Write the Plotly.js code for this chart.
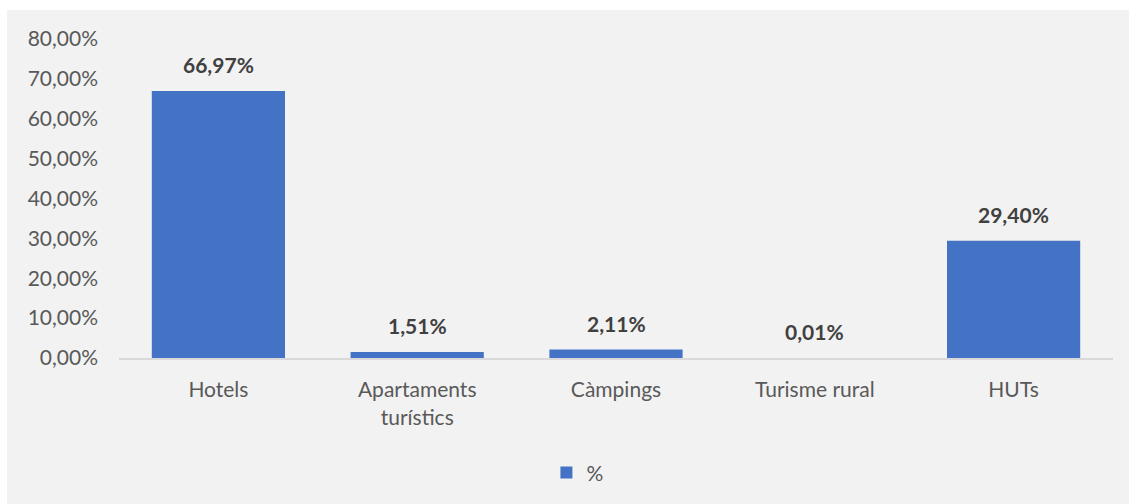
<!DOCTYPE html>
<html>
<head>
<meta charset="utf-8">
<script src="https://cdn.plot.ly/plotly-3.0.1.min.js"></script>
<style>
html,body{margin:0;padding:0;background:#ffffff;}
#chart{position:absolute;left:7px;top:10px;width:1122px;height:494px;}
</style>
</head>
<body>
<div id="chart"></div>
<script>
const categories = ["Hotels", "Apartaments<br>turístics", "Càmpings", "Turisme rural", "HUTs"];
const values = [66.97, 1.51, 2.11, 0.01, 29.40];
const labels = ["66,97%", "1,51%", "2,11%", "0,01%", "29,40%"];
const tickVals = [0, 10, 20, 30, 40, 50, 60, 70, 80];
const tickText = ["0,00%", "10,00%", "20,00%", "30,00%", "40,00%", "50,00%", "60,00%", "70,00%", "80,00%"];
const seriesName = "%";

const font = "Lato, 'Open Sans', sans-serif";

const annotations = categories.map((c, i) => ({
  x: c, y: values[i], xref: "x", yref: "y",
  text: labels[i], showarrow: false,
  yanchor: "bottom", yshift: 12,
  font: {family: font, size: 21, color: "#404040", weight: "bold"}
}));

Plotly.newPlot("chart", [{
  type: "bar",
  x: categories,
  y: values,
  name: seriesName,
  marker: {color: "#4472c4"},
  hoverinfo: "none"
}], {
  width: 1122, height: 494,
  paper_bgcolor: "#f2f2f2",
  plot_bgcolor: "#f2f2f2",
  margin: {l: 112, r: 16, t: 29, b: 145},
  bargap: 0.33,
  font: {family: font, size: 21, color: "#595959"},
  annotations: annotations,
  xaxis: {
    showline: true, linecolor: "#d9d9d9", linewidth: 2,
    ticks: "", showgrid: false,
    ticklabelstandoff: 12,
    tickfont: {family: font, size: 21, color: "#595959"},
    fixedrange: true
  },
  yaxis: {
    range: [0, 80],
    tickvals: tickVals, ticktext: tickText,
    showgrid: false, zeroline: false, showline: false,
    ticks: "", ticklen: 0,
    ticklabelstandoff: 20,
    tickfont: {family: font, size: 21, color: "#595959"},
    fixedrange: true
  },
  showlegend: true,
  legend: {
    orientation: "h", x: 0.43, xanchor: "left", y: -0.356, yanchor: "middle",
    font: {family: font, size: 21, color: "#595959"},
    itemwidth: 30
  }
}, {displayModeBar: false, staticPlot: true});
</script>
</body>
</html>
